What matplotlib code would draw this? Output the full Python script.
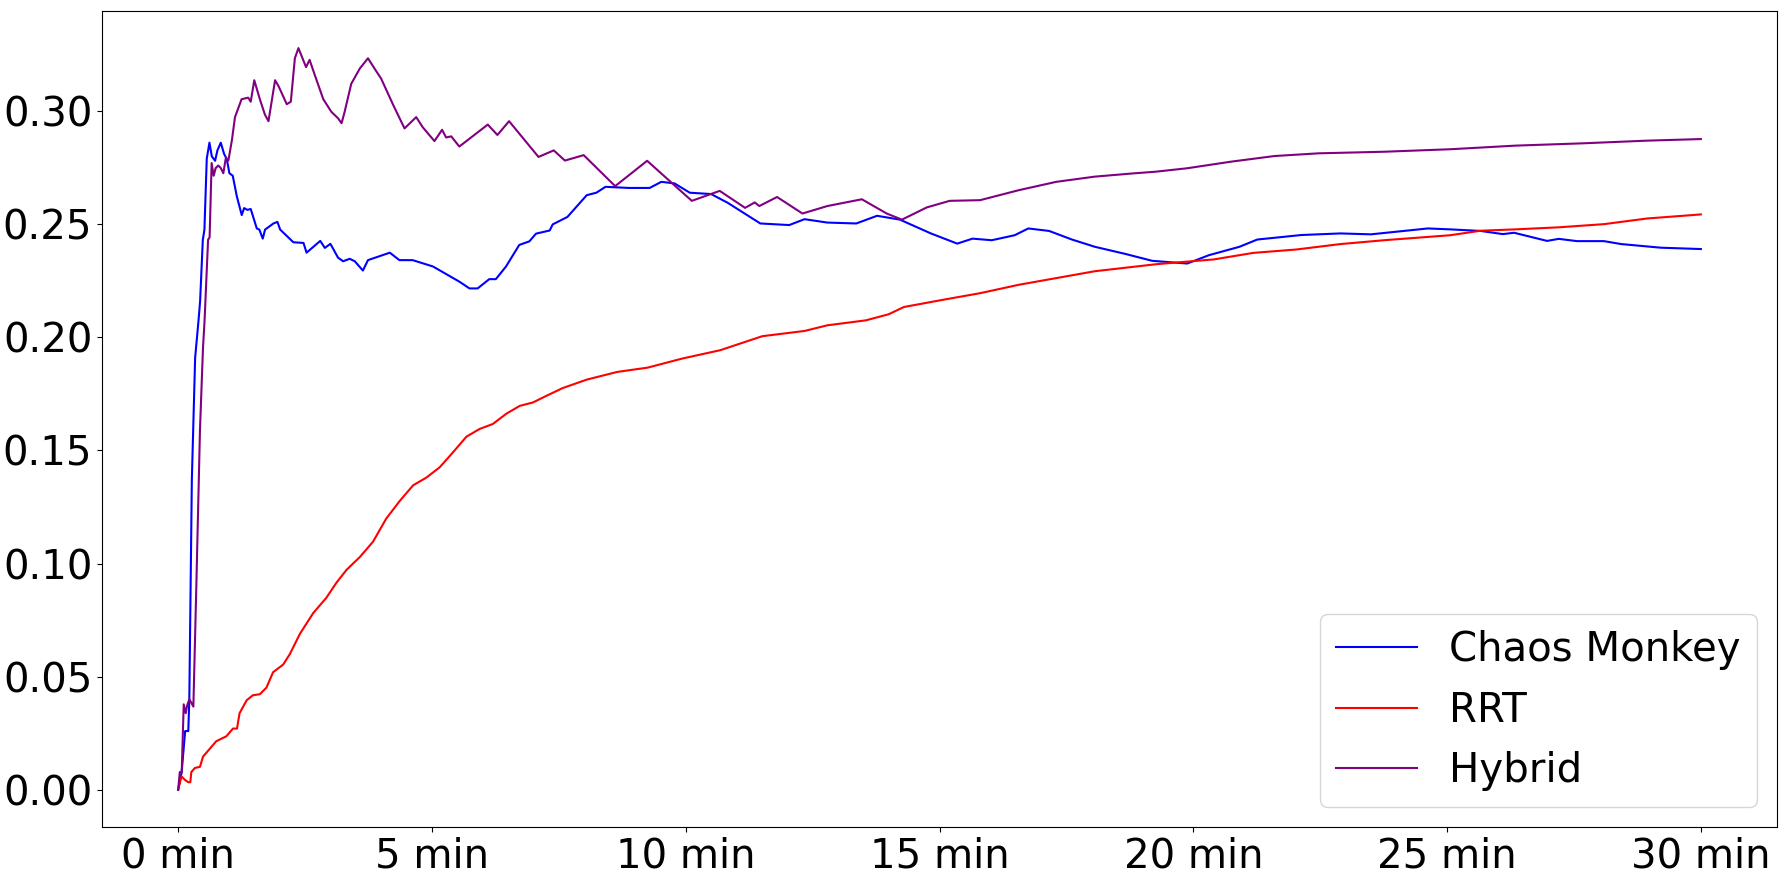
import matplotlib
matplotlib.use('Agg')
from matplotlib import pyplot as plt

# time in minutes
cm_t = [0, 0.07, 0.138, 0.2, 0.22, 0.27, 0.335, 0.4, 0.433, 0.486, 0.518, 0.564, 0.617,
        0.663, 0.728, 0.774, 0.84, 0.906, 0.958, 1.01, 1.076, 1.155, 1.253, 1.3, 1.365,
        1.43, 1.55, 1.6, 1.667, 1.713, 1.877, 1.956, 2.01, 2.27, 2.47, 2.53, 2.8, 2.89,
        3.0, 3.15, 3.25, 3.38, 3.48, 3.64, 3.74, 4.17, 4.36, 4.62, 5.02, 5.54, 5.74, 5.9,
        6.13, 6.26, 6.46, 6.72, 6.92, 7.05, 7.32, 7.38, 7.67, 8.05, 8.24, 8.42, 8.88,
        9.29, 9.52, 9.78, 10.08, 10.5, 10.83, 11.47, 12.04, 12.34, 12.79, 13.36, 13.77,
        14.22, 14.83, 15.35, 15.65, 16.03, 16.48, 16.75, 17.16, 17.61, 18.06, 18.67,
        19.19, 19.88, 20.31, 20.91, 21.26, 22.13, 22.9, 23.5, 24.19, 24.62, 25.06, 25.66,
        26.1, 26.32, 26.97, 27.2, 27.56, 28.09, 28.43, 29.21, 30]
cm_v = [0, 0.008, 0.026, 0.026, 0.0396, 0.137, 0.191, 0.207, 0.216, 0.243, 0.2476, 0.279,
        0.286, 0.28, 0.278, 0.2826, 0.286, 0.281, 0.2788, 0.2725, 0.2714, 0.2624, 0.254,
        0.2571, 0.2563, 0.2567, 0.2481, 0.2476, 0.2436, 0.2476, 0.2503, 0.251, 0.2476,
        0.242, 0.2417, 0.2374, 0.2426, 0.2395, 0.2413, 0.2352, 0.2336, 0.2347, 0.2336,
        0.2295, 0.2341, 0.2374, 0.2341, 0.2341, 0.2313, 0.2246, 0.2216, 0.2216, 0.2257,
        0.2257, 0.2313, 0.2408, 0.2424, 0.2458, 0.2472, 0.2499, 0.2532, 0.2628, 0.2639,
        0.2665, 0.266, 0.266, 0.2687, 0.268, 0.2639, 0.2633, 0.2594, 0.2503, 0.2496,
        0.2522, 0.2507, 0.2503, 0.2537, 0.252, 0.2459, 0.2414, 0.2436, 0.2429, 0.2451,
        0.2481, 0.247, 0.2432, 0.24, 0.2368, 0.2338, 0.2326, 0.2363, 0.24, 0.2432,
        0.2452, 0.2459, 0.2455, 0.2471, 0.2481, 0.2477, 0.247, 0.2456, 0.2462, 0.2426,
        0.2435, 0.2425, 0.2425, 0.2412, 0.2396, 0.239]

rrt_t = [0, 0.065, 0.13, 0.2, 0.24, 0.26, 0.33, 0.43, 0.49, 0.62, 0.75, 0.95, 1.08, 1.16,
         1.21, 1.35, 1.47, 1.61, 1.74, 1.87, 2.07, 2.2, 2.4, 2.66, 2.92, 3.12, 3.32, 3.58,
         3.84, 4.1, 4.37, 4.63, 4.89, 5.15, 5.42, 5.68, 5.94, 6.2, 6.47, 6.73, 6.99, 7.26,
         7.58, 8.05, 8.65, 9.25, 9.93, 10.68, 11.51, 12.34, 12.79, 13.55, 14.0, 14.3,
         15.05, 15.8, 16.56, 17.31, 18.06, 19.27, 19.96, 20.4, 21.18, 22.03, 22.9, 23.76,
         25.06, 25.66, 26.35, 27.2, 28.09, 28.94, 30]
rrt_v = [0, 0.006, 0.0045, 0.0034, 0.0034, 0.0079, 0.0097, 0.0102, 0.0147, 0.0181, 0.0215,
         0.0237, 0.0271, 0.0271, 0.0339, 0.0396, 0.0418, 0.0423, 0.0452, 0.052, 0.0554,
         0.06, 0.069, 0.0781, 0.0849, 0.0916, 0.0973, 0.1029, 0.1097, 0.1199, 0.1278,
         0.1346, 0.138, 0.1425, 0.1493, 0.1561, 0.1595, 0.1617, 0.1663, 0.1697, 0.1712,
         0.1742, 0.1776, 0.1813, 0.1847, 0.1866, 0.1906, 0.1943, 0.2005, 0.2028, 0.2053,
         0.2075, 0.2102, 0.2134, 0.2165, 0.2195, 0.2232, 0.2262, 0.2292, 0.2323, 0.2336,
         0.2344, 0.2373, 0.2388, 0.2412, 0.2429, 0.2451, 0.2471, 0.2477, 0.2486, 0.25,
         0.2525, 0.2543]

hyb_t = [0, 0.033, 0.07, 0.11, 0.15, 0.177, 0.22, 0.26, 0.3, 0.36, 0.43, 0.49, 0.52, 0.59,
         0.62, 0.66, 0.7, 0.74, 0.79, 0.84, 0.89, 0.94, 0.99, 1.06, 1.12, 1.25, 1.38, 1.43,
         1.5, 1.61, 1.71, 1.78, 1.91, 1.98, 2.14, 2.22, 2.3, 2.37, 2.52, 2.59, 2.7, 2.86,
         3.02, 3.15, 3.22, 3.28, 3.41, 3.58, 3.74, 3.9, 4.0, 4.23, 4.46, 4.69, 4.82, 5.05,
         5.2, 5.28, 5.38, 5.54, 6.1, 6.29, 6.52, 7.1, 7.4, 7.62, 7.99, 8.61, 9.24, 10.12,
         10.67, 11.17, 11.36, 11.45, 11.8, 12.3, 12.79, 13.47, 13.96, 14.26, 14.75, 15.2,
         15.8, 16.56, 17.3, 18.06, 18.8, 19.27, 19.88, 20.74, 21.6, 22.47, 23.76, 25.06,
         26.35, 27.65, 28.94, 30]
hyb_v = [0, 0.0079, 0.0075, 0.0378, 0.0339, 0.0373, 0.04, 0.0385, 0.0368, 0.0915, 0.159,
         0.1955, 0.207, 0.2431, 0.2442, 0.277, 0.2714, 0.2748, 0.2759, 0.2748, 0.2725,
         0.2793, 0.2781, 0.2872, 0.2973, 0.3052, 0.3059, 0.3041, 0.3136, 0.3052, 0.2984,
         0.2955, 0.3136, 0.3109, 0.303, 0.3041, 0.3233, 0.3278, 0.3194, 0.3226, 0.3154,
         0.3052, 0.2996, 0.2968, 0.2946, 0.2996, 0.312, 0.3188, 0.3233, 0.3177, 0.3143,
         0.303, 0.2923, 0.2973, 0.2928, 0.2867, 0.2917, 0.2883, 0.2888, 0.2843, 0.294,
         0.2894, 0.2955, 0.2797, 0.2826, 0.2781, 0.2805, 0.2668, 0.278, 0.2603, 0.2647,
         0.2572, 0.2596, 0.258, 0.262, 0.2547, 0.258, 0.261, 0.2547, 0.252, 0.2574, 0.2603,
         0.2606, 0.265, 0.2687, 0.271, 0.2724, 0.2732, 0.2747, 0.2776, 0.2801, 0.2813,
         0.282, 0.2831, 0.2847, 0.2857, 0.2869, 0.2876]

tick_pos = [0, 5, 10, 15, 20, 25, 30]
tick_labels = ['0 min', '5 min', '10 min', '15 min', '20 min', '25 min', '30 min']

fig = plt.figure(figsize=(17.88, 8.8), dpi=100)
ax = fig.add_axes([102 / 1788, 1 - 827 / 880, 1675 / 1788, 816 / 880])
ax.plot(cm_t, cm_v, color='blue', label='Chaos Monkey')
ax.plot(rrt_t, rrt_v, color='red', label='RRT')
ax.plot(hyb_t, hyb_v, color='purple', label='Hybrid')
ax.set_xticks(tick_pos)
ax.set_xticklabels(tick_labels)
ax.tick_params(labelsize=29)
ax.legend(loc='lower right', fontsize=29)

plt.savefig('out.png', dpi=100)
